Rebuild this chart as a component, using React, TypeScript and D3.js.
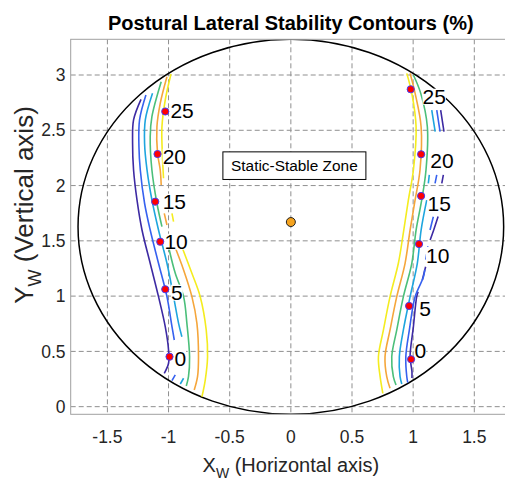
import React from 'react';
import * as d3 from 'd3';

type P = [number, number] | null;

const xTicks = [-1.5, -1, -0.5, 0, 0.5, 1, 1.5];
const yTicks = [0, 0.5, 1, 1.5, 2, 2.5, 3];
const levels = ['0', '5', '10', '15', '20', '25'];
const levelColors = ['#3d2aa3', '#3661ef', '#1ea5de', '#4bbf7a', '#f5a63b', '#f4ec1f'];

// Left-hand contours (levels 0..25), null = break in the line
const left0: P[] = [[-1.225, 2.78], [-1.286, 2.594], [-1.294, 2.382], [-1.286, 2.141], [-1.258, 1.87], [-1.217, 1.598], [-1.15, 1.297], [-1.082, 0.995], [-1.027, 0.724], [-1.0, 0.513], [-1.0, 0.393], [-1.035, 0.302]];
const left5: P[] = [[-1.185, 2.819], [-1.237, 2.594], [-1.242, 2.351], [-1.231, 2.141], [-1.196, 1.84], [-1.15, 1.598], [-1.082, 1.297], [-1.013, 0.995], [-0.972, 0.724], [-0.953, 0.603], null, [-0.945, 0.287], [-0.972, 0.235]];
const left10: P[] = [[-1.131, 2.834], [-1.19, 2.594], [-1.196, 2.382], [-1.176, 2.141], [-1.136, 1.87], [-1.082, 1.598], [-1.013, 1.297], [-0.959, 0.995], [-0.918, 0.754], [-0.891, 0.633], null, [-0.877, 0.257], [-0.904, 0.205]];
const left15: P[] = [[-1.06, 2.939], [-1.136, 2.623], [-1.15, 2.442], [-1.136, 2.141], [-1.095, 1.84], [-1.054, 1.628], null, [-1.0, 1.447], [-0.945, 1.206], [-0.877, 0.995], [-0.85, 0.754], [-0.828, 0.452], [-0.837, 0.271], [-0.855, 0.187]];
const left20: P[] = [[-1.013, 2.985], [-1.068, 2.744], [-1.095, 2.532], [-1.09, 2.292], [-1.068, 2.141], [-1.06, 2.005], null, [-1.035, 1.749], [-1.013, 1.643], null, [-0.959, 1.478], [-0.877, 1.237], [-0.809, 0.995], [-0.768, 0.754], [-0.755, 0.452], [-0.763, 0.271], [-0.79, 0.151]];
const left25: P[] = [[-0.98, 3.009], [-1.027, 2.774], [-1.054, 2.532], [-1.052, 2.322], [-1.041, 2.066], null, [-0.972, 1.749], [-0.959, 1.673], null, [-0.891, 1.447], [-0.809, 1.206], [-0.741, 0.995], [-0.692, 0.694], [-0.681, 0.452], [-0.7, 0.241], [-0.727, 0.09]];

// Right-hand contours
const right0: P[] = [[1.225, 2.683], [1.252, 2.487], null, [1.247, 2.096], [1.234, 2.02], null, [1.204, 1.72], [1.168, 1.598], [1.139, 1.508], null, [1.102, 1.266], [1.075, 1.146], null, [1.041, 1.04], [1.029, 0.995], [1.002, 0.724], [0.975, 0.452], [0.99, 0.32], [0.99, 0.26]];
const right5: P[] = [[1.193, 2.683], [1.22, 2.487], null, [1.193, 2.096], [1.179, 2.02], null, [1.165, 1.718], [1.138, 1.598], null, [1.12, 1.45], [1.104, 1.33], null, [1.095, 1.24], [1.083, 1.17], [1.016, 0.995], [0.969, 0.694], [0.94, 0.452], [0.948, 0.271], [0.956, 0.217]];
const right10: P[] = [[1.152, 2.683], [1.18, 2.487], null, [1.132, 2.096], [1.124, 2.02], null, [1.111, 1.868], [1.065, 1.598], [1.034, 1.297], [0.975, 0.995], [0.92, 0.694], [0.887, 0.452], [0.893, 0.271], [0.907, 0.205]];
const right15: P[] = [[1.002, 3.0], [1.062, 2.834], [1.116, 2.532], [1.105, 2.141], [1.07, 1.87], [1.024, 1.598], [0.989, 1.297], [0.92, 0.995], [0.866, 0.694], [0.825, 0.452], [0.838, 0.271], [0.86, 0.196]];
const right20: P[] = [[0.975, 3.015], [1.016, 2.834], [1.065, 2.532], [1.056, 2.141], [1.016, 1.87], [0.975, 1.598], [0.934, 1.297], [0.866, 0.995], [0.811, 0.694], [0.77, 0.452], [0.784, 0.271], [0.811, 0.166]];
const right25: P[] = [[0.948, 3.015], [0.989, 2.834], [1.024, 2.532], [1.002, 2.141], [0.961, 1.87], [0.917, 1.551], [0.879, 1.297], [0.811, 0.995], [0.757, 0.694], [0.716, 0.452], [0.73, 0.271], [0.752, 0.121]];

const leftContours = [left0, left5, left10, left15, left20, left25];
const rightContours = [right0, right5, right10, right15, right20, right25];

// Marker points on contours
const leftDotX = [-0.992, -1.027, -1.068, -1.109, -1.09, -1.027];
const leftDotY = [0.452, 1.062, 1.492, 1.854, 2.285, 2.67];
const rightDotX = [0.983, 0.967, 1.048, 1.065, 1.065, 0.98];
const rightDotY = [0.429, 0.911, 1.471, 1.906, 2.283, 2.871];

// Label anchor positions (left edge, vertical centre)
const leftLabelX = [-0.952, -0.979, -1.034, -1.048, -1.048, -0.985];
const leftLabelY = [0.438, 1.031, 1.492, 1.854, 2.261, 2.683];
const rightLabelX = [1.01, 1.05, 1.105, 1.118, 1.14, 1.077];
const rightLabelY = [0.513, 0.89, 1.372, 1.84, 2.231, 2.804];

// Boundary ellipse & centre
const ellipseCx = 0;
const ellipseCy = 1.627;
const ellipseRx = 1.74;
const ellipseRy = 1.696;
const centerPoint = [0, 1.67];
const zoneText = 'Static-Stable Zone';
const zonePos = [0.029, 2.18];

const FONT = 'Liberation Sans, Arial, Helvetica, sans-serif';

export default function App() {
  const L = 70.7, R = 511, T = 39.3, B = 414.3;
  const x = d3.scaleLinear().domain([-1.8, 1.8]).range([L, R]);
  const y = d3.scaleLinear().domain([-0.069, 3.323]).range([B, T]);
  const line = d3
    .line<P>()
    .defined((d) => d !== null)
    .x((d) => x((d as [number, number])[0]))
    .y((d) => y((d as [number, number])[1]))
    .curve(d3.curveCatmullRom.alpha(0.5));

  const labelFs = 21;
  const renderLabels = (lx: number[], ly: number[], key: string) =>
    levels.map((t, i) => {
      const px = x(lx[i]);
      const py = y(ly[i]);
      const w = t.length * 0.556 * labelFs;
      return (
        <g key={key + i}>
          <rect x={px} y={py - 0.38 * labelFs} width={w} height={0.76 * labelFs} fill="#fff" />
          <text x={px} y={py} dy="0.36em" fontSize={labelFs} fontFamily={FONT} fill="#000">
            {t}
          </text>
        </g>
      );
    });

  const renderDots = (dx: number[], dy: number[], key: string) =>
    dx.map((v, i) => (
      <circle key={key + i} cx={x(v)} cy={y(dy[i])} r={3.6} fill="#ff0000" stroke="#4a3cf0" strokeWidth={1} />
    ));

  return (
    <svg width={505} height={481} style={{ position: 'absolute', left: 0, top: 0, background: '#fff' }}>
      <defs>
        <clipPath id="plotClip">
          <rect x={L} y={T} width={R - L} height={B - T} />
        </clipPath>
      </defs>
      <rect x={0} y={0} width={505} height={481} fill="#fff" />
      <g clipPath="url(#plotClip)">
        {xTicks.map((t) => (
          <line key={'gx' + t} x1={x(t)} x2={x(t)} y1={T} y2={B} stroke="#8f8f8f" strokeWidth={1} strokeDasharray="5,3" />
        ))}
        {yTicks.map((t) => (
          <line key={'gy' + t} x1={L} x2={R} y1={y(t)} y2={y(t)} stroke="#8f8f8f" strokeWidth={1} strokeDasharray="5,3" />
        ))}
        <ellipse
          cx={x(ellipseCx)}
          cy={y(ellipseCy)}
          rx={x(ellipseRx) - x(0)}
          ry={y(0) - y(ellipseRy)}
          fill="none"
          stroke="#000"
          strokeWidth={1.5}
        />
        {leftContours.map((c, i) => (
          <path key={'lc' + i} d={line(c) || ''} fill="none" stroke={levelColors[i]} strokeWidth={1.6} />
        ))}
        {rightContours.map((c, i) => (
          <path key={'rc' + i} d={line(c) || ''} fill="none" stroke={levelColors[i]} strokeWidth={1.6} />
        ))}
        {renderLabels(leftLabelX, leftLabelY, 'll')}
        {renderLabels(rightLabelX, rightLabelY, 'rl')}
        {renderDots(leftDotX, leftDotY, 'ld')}
        {renderDots(rightDotX, rightDotY, 'rd')}
        <circle cx={x(centerPoint[0])} cy={y(centerPoint[1])} r={4.5} fill="#f5a31e" stroke="#222" strokeWidth={1} />
        <rect x={x(zonePos[0]) - 71.5} y={y(zonePos[1]) - 13.8} width={143} height={27.6} fill="#fff" stroke="#000" strokeWidth={1} />
        <text x={x(zonePos[0])} y={y(zonePos[1])} dy="0.35em" textAnchor="middle" fontSize={15.4} fontFamily={FONT} fill="#000">
          {zoneText}
        </text>
      </g>
      <rect x={L} y={T} width={R - L} height={B - T} fill="none" stroke="#a0a0a0" strokeWidth={1} />
      {xTicks.map((t) => (
        <text key={'xt' + t} x={x(t)} y={442.5} textAnchor="middle" fontSize={17.5} fontFamily={FONT} fill="#262626">
          {String(t)}
        </text>
      ))}
      {yTicks.map((t) => (
        <text key={'yt' + t} x={65.5} y={y(t)} dy="0.35em" textAnchor="end" fontSize={17.5} fontFamily={FONT} fill="#262626">
          {String(t)}
        </text>
      ))}
      <text x={(L + R) / 2} y={29.5} textAnchor="middle" fontSize={20} fontWeight="bold" fontFamily={FONT} fill="#000">
        Postural Lateral Stability Contours (%)
      </text>
      <text x={(L + R) / 2} y={471.5} textAnchor="middle" fontSize={20} fontFamily={FONT} fill="#262626">
        X<tspan fontSize={14} dy={6}>W</tspan>
        <tspan dy={-6}> (Horizontal axis)</tspan>
      </text>
      <text
        transform={`translate(33,205) rotate(-90)`}
        textAnchor="middle"
        fontSize={26}
        fontFamily={FONT}
        fill="#262626"
      >
        Y<tspan fontSize={18} dy={8}>W</tspan>
        <tspan dy={-8}> (Vertical axis)</tspan>
      </text>
    </svg>
  );
}
